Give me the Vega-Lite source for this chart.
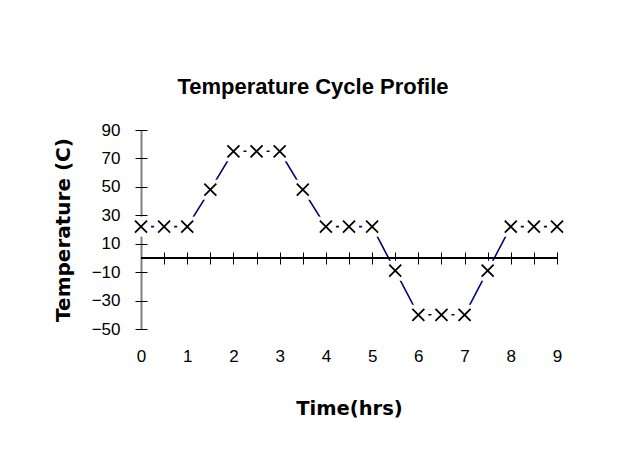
{
  "$schema": "https://vega.github.io/schema/vega-lite/v6.json",
  "width": 416,
  "height": 199,
  "autosize": {"type": "none"},
  "padding": {"left": 141, "top": 130, "right": 69, "bottom": 130},
  "background": "white",
  "config": {"view": {"stroke": null}, "font": "Liberation Sans"},
  "title": {
    "text": "Temperature Cycle Profile",
    "font": "Liberation Sans",
    "fontSize": 22,
    "fontWeight": "bold",
    "color": "black",
    "anchor": "middle",
    "baseline": "alphabetic",
    "offset": 5,
    "dx": -36
  },
  "data": {
    "values": [
      {"t": 0, "temp": 22},
      {"t": 0.5, "temp": 22},
      {"t": 1, "temp": 22},
      {"t": 1.5, "temp": 48},
      {"t": 2, "temp": 75},
      {"t": 2.5, "temp": 75},
      {"t": 3, "temp": 75},
      {"t": 3.5, "temp": 48},
      {"t": 4, "temp": 22},
      {"t": 4.5, "temp": 22},
      {"t": 5, "temp": 22},
      {"t": 5.5, "temp": -9},
      {"t": 6, "temp": -40},
      {"t": 6.5, "temp": -40},
      {"t": 7, "temp": -40},
      {"t": 7.5, "temp": -9},
      {"t": 8, "temp": 22},
      {"t": 8.5, "temp": 22},
      {"t": 9, "temp": 22}
    ]
  },
  "resolve": {"scale": {"x": "shared", "y": "shared"}, "axis": {"x": "independent", "y": "independent"}},
  "layer": [
    {
      "mark": {"type": "line", "color": "#000080", "strokeWidth": 1.6},
      "encoding": {
        "x": {
          "field": "t", "type": "quantitative",
          "scale": {"domain": [0, 9], "nice": false, "zero": false},
          "axis": {
            "orient": "bottom", "values": [0,1,2,3,4,5,6,7,8,9],
            "domain": false, "ticks": false, "tickSize": 0, "grid": false,
            "labelFont": "Liberation Sans", "labelFontSize": 17, "labelColor": "black",
            "labelPadding": 19, "labelFlush": false,
            "title": "Time(hrs)", "titleFont": "DejaVu Sans", "titleFontSize": 19.5,
            "titleFontWeight": "bold", "titleColor": "black", "titlePadding": 35
          }
        },
        "y": {
          "field": "temp", "type": "quantitative",
          "scale": {"domain": [-50, 90], "nice": false, "zero": false},
          "axis": {
            "orient": "left", "values": [-50,-30,-10,10,30,50,70,90],
            "domain": true, "domainColor": "#808080", "domainWidth": 2,
            "ticks": false, "tickSize": 0, "grid": false,
            "labelFont": "Liberation Sans", "labelFontSize": 17, "labelColor": "black",
            "labelPadding": 21, "labelFlush": false,
            "title": "Temperature (C)", "titleFont": "DejaVu Sans", "titleFontSize": 20,
            "titleFontWeight": "bold", "titleColor": "black", "titlePadding": 18
          }
        }
      }
    },
    {
      "mark": {"type": "rule", "color": "black", "strokeWidth": 1.2},
      "encoding": {
        "y": {"datum": 0, "type": "quantitative",
          "axis": {
            "orient": "left", "offset": -6, "values": [-50,-30,-10,10,30,50,70,90],
            "domain": false, "ticks": true, "tickSize": 12, "tickColor": "black", "tickWidth": 1,
            "labels": false, "grid": false, "title": null
          }
        }
      }
    },
    {
      "mark": {"type": "point", "shape": "square", "size": 400, "filled": true, "color": "white", "opacity": 1, "strokeWidth": 0},
      "encoding": {
        "x": {"field": "t", "type": "quantitative",
          "axis": {
            "orient": "top", "offset": -134, "values": [0,0.5,1,1.5,2,2.5,3,3.5,4,4.5,5,5.5,6,6.5,7,7.5,8,8.5,9],
            "domain": false, "ticks": true, "tickSize": 12, "tickColor": "black", "tickWidth": 1,
            "labels": false, "grid": false, "title": null
          }
        },
        "y": {"field": "temp", "type": "quantitative", "axis": null}
      }
    },
    {
      "mark": {"type": "point", "shape": "M-1,-1L1,1M-1,1L1,-1", "size": 144, "filled": false, "color": "black", "strokeWidth": 1.8, "opacity": 1},
      "encoding": {
        "x": {"field": "t", "type": "quantitative", "axis": null},
        "y": {"field": "temp", "type": "quantitative", "axis": null}
      }
    }
  ]
}
